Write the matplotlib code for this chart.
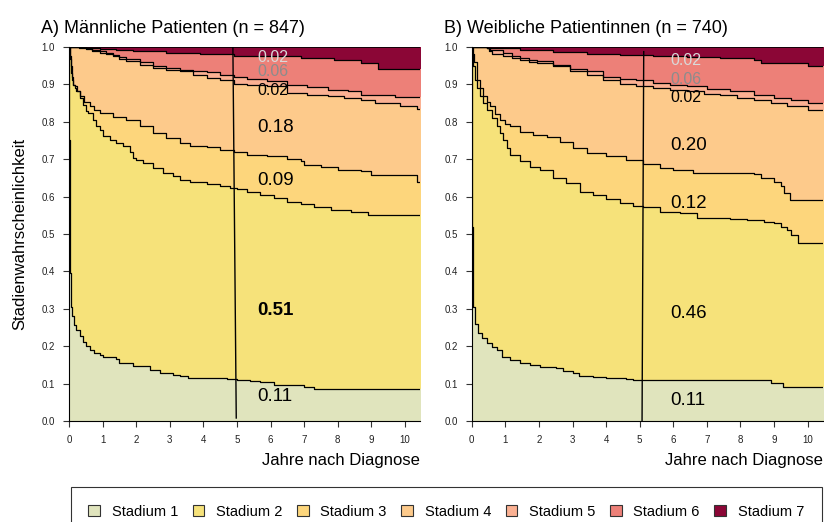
import matplotlib
matplotlib.use('Agg')
import matplotlib.pyplot as plt
from matplotlib.patches import Patch

plt.rcParams['font.family'] = ['Liberation Sans', 'DejaVu Sans']

stages = ['Stadium 1', 'Stadium 2', 'Stadium 3', 'Stadium 4', 'Stadium 5', 'Stadium 6', 'Stadium 7']
colors = ['#e0e4bd', '#f6e27a', '#fdd67c', '#fdca8b', '#fbb193', '#ed8078', '#8b0636']

# A) Maenner - kumulierte Grenzen (Stadium 1 oben, 1+2 oben, ...)
m_t1 = [0, 0.01, 0.02, 0.04, 0.07, 0.1, 0.14, 0.22, 0.32, 0.42, 0.52, 0.62, 0.75, 0.91, 1.0, 1.41, 1.5, 1.8, 1.9, 2.1, 2.4, 2.7, 3.1, 3.3, 3.55, 4.2, 4.7, 5.0, 5.4, 5.7, 6.1, 6.5, 7.0, 7.3, 10.5]
m_b1 = [1.0, 0.75, 0.5, 0.396, 0.306, 0.28, 0.257, 0.244, 0.226, 0.2125, 0.2, 0.19, 0.182, 0.177, 0.17, 0.166, 0.156, 0.154, 0.147, 0.146, 0.137, 0.128, 0.123, 0.119, 0.116, 0.114, 0.1125, 0.11, 0.107, 0.103, 0.096, 0.0955, 0.092, 0.086, 0.086]
m_t2 = [0, 0.02, 0.05, 0.07, 0.1, 0.12, 0.17, 0.22, 0.32, 0.42, 0.52, 0.57, 0.71, 0.81, 0.91, 1.01, 1.21, 1.41, 1.61, 1.81, 1.91, 2.0, 2.2, 2.5, 2.8, 3.1, 3.3, 3.6, 4.1, 4.5, 4.8, 5.0, 5.3, 5.7, 6.1, 6.5, 6.9, 7.3, 7.8, 8.4, 8.9, 10.5]
m_b2 = [1.0, 0.975, 0.95, 0.93, 0.912, 0.899, 0.89, 0.881, 0.863, 0.846, 0.83, 0.823, 0.805, 0.79, 0.779, 0.763, 0.752, 0.743, 0.734, 0.718, 0.703, 0.698, 0.689, 0.676, 0.6625, 0.654, 0.645, 0.64, 0.634, 0.629, 0.624, 0.621, 0.613, 0.604, 0.595, 0.585, 0.58, 0.573, 0.564, 0.559, 0.552, 0.552]
m_t3 = [0, 0.02, 0.04, 0.07, 0.1, 0.12, 0.17, 0.24, 0.32, 0.45, 0.62, 0.75, 0.91, 1.31, 1.71, 2.1, 2.5, 2.9, 3.3, 3.6, 4.1, 4.5, 4.9, 5.3, 5.9, 6.5, 6.9, 7.0, 7.5, 8.0, 8.7, 9.0, 9.85, 10.35, 10.5]
m_b3 = [1.0, 0.985, 0.968, 0.948, 0.92, 0.899, 0.895, 0.882, 0.868, 0.853, 0.841, 0.831, 0.8235, 0.8125, 0.805, 0.7875, 0.77, 0.7565, 0.743, 0.734, 0.7325, 0.725, 0.718, 0.712, 0.7075, 0.70, 0.696, 0.685, 0.68, 0.672, 0.6675, 0.658, 0.6565, 0.64, 0.64]
m_t4 = [0, 0.3, 0.52, 0.7, 0.91, 1.1, 1.31, 1.5, 1.71, 2.1, 2.5, 2.9, 3.3, 3.7, 4.1, 4.5, 4.9, 5.3, 5.9, 6.5, 7.1, 7.7, 8.2, 8.7, 9.1, 9.85, 10.35, 10.5]
m_b4 = [1.0, 0.998, 0.995, 0.99, 0.984, 0.98, 0.975, 0.968, 0.962, 0.953, 0.944, 0.939, 0.935, 0.926, 0.917, 0.911, 0.902, 0.899, 0.8945, 0.877, 0.872, 0.868, 0.8635, 0.859, 0.85, 0.841, 0.834, 0.834]
m_t5 = [0, 0.3, 0.52, 0.7, 0.91, 1.1, 1.31, 1.5, 1.71, 2.1, 2.5, 2.9, 3.3, 3.7, 4.1, 4.5, 4.9, 5.3, 5.9, 6.5, 7.1, 7.7, 8.3, 8.7, 9.7, 10.5]
m_b5 = [1.0, 0.999, 0.997, 0.993, 0.988, 0.984, 0.979, 0.973, 0.968, 0.959, 0.95, 0.944, 0.939, 0.935, 0.932, 0.926, 0.919, 0.914, 0.908, 0.899, 0.893, 0.886, 0.881, 0.872, 0.865, 0.865]
m_t6 = [0, 0.5, 0.91, 1.4, 1.9, 2.9, 3.9, 4.9, 5.9, 6.9, 7.9, 8.7, 9.2, 10.5]
m_b6 = [1.0, 0.998, 0.995, 0.991, 0.988, 0.984, 0.981, 0.977, 0.975, 0.97, 0.966, 0.957, 0.941, 0.941]

# B) Frauen
f_t1 = [0, 0.01, 0.02, 0.03, 0.05, 0.1, 0.2, 0.3, 0.45, 0.6, 0.74, 0.9, 1.14, 1.44, 1.73, 2.03, 2.52, 2.72, 3.02, 3.2, 3.6, 4.0, 4.6, 4.8, 8.9, 9.26, 10.5]
f_b1 = [1.0, 0.7, 0.52, 0.42, 0.306, 0.26, 0.235, 0.223, 0.208, 0.198, 0.19, 0.172, 0.162, 0.154, 0.15, 0.1455, 0.143, 0.134, 0.129, 0.121, 0.118, 0.114, 0.112, 0.109, 0.101, 0.092, 0.092]
f_t2 = [0, 0.02, 0.05, 0.1, 0.17, 0.25, 0.35, 0.45, 0.6, 0.74, 0.84, 0.94, 1.04, 1.14, 1.44, 1.73, 2.03, 2.43, 2.82, 3.22, 3.61, 4.0, 4.4, 4.8, 5.1, 5.6, 6.2, 6.7, 7.7, 8.2, 8.7, 9.0, 9.2, 9.4, 9.5, 9.7, 10.5]
f_b2 = [1.0, 0.98, 0.95, 0.9125, 0.89, 0.868, 0.85, 0.832, 0.81, 0.7875, 0.77, 0.752, 0.73, 0.712, 0.694, 0.68, 0.6715, 0.649, 0.636, 0.613, 0.604, 0.594, 0.582, 0.576, 0.571, 0.56, 0.555, 0.542, 0.54, 0.5375, 0.533, 0.529, 0.52, 0.511, 0.498, 0.475, 0.475]
f_t3 = [0, 0.03, 0.07, 0.15, 0.25, 0.35, 0.45, 0.54, 0.7, 0.84, 1.0, 1.14, 1.44, 1.83, 2.23, 2.62, 3.02, 3.42, 4.0, 4.6, 5.1, 5.6, 6.0, 6.6, 8.4, 8.6, 9.0, 9.2, 9.3, 9.46, 10.5]
f_b3 = [1.0, 0.98, 0.96, 0.9125, 0.89, 0.868, 0.853, 0.841, 0.822, 0.805, 0.795, 0.7875, 0.774, 0.765, 0.759, 0.747, 0.729, 0.716, 0.709, 0.698, 0.6875, 0.676, 0.67, 0.6625, 0.661, 0.649, 0.64, 0.627, 0.609, 0.5915, 0.5915]
f_t4 = [0, 0.45, 0.52, 0.6, 0.94, 1.2, 1.44, 1.7, 1.93, 2.43, 2.92, 3.42, 3.9, 4.4, 4.9, 5.4, 5.9, 6.4, 6.9, 7.4, 7.9, 8.4, 8.9, 9.4, 10.0, 10.5]
f_b4 = [1.0, 0.997, 0.99, 0.982, 0.975, 0.97, 0.966, 0.961, 0.957, 0.948, 0.935, 0.926, 0.9125, 0.902, 0.8945, 0.89, 0.886, 0.881, 0.875, 0.872, 0.8635, 0.859, 0.85, 0.841, 0.832, 0.828]
f_t5 = [0, 0.45, 0.54, 0.94, 1.2, 1.44, 1.7, 1.93, 2.43, 2.92, 3.42, 3.9, 4.4, 4.9, 5.4, 5.9, 6.4, 7.0, 7.7, 8.4, 9.0, 9.5, 10.0, 10.5]
f_b5 = [1.0, 0.997, 0.993, 0.984, 0.977, 0.971, 0.966, 0.962, 0.953, 0.941, 0.935, 0.921, 0.914, 0.911, 0.905, 0.899, 0.8945, 0.8875, 0.881, 0.872, 0.8635, 0.859, 0.85, 0.848]
f_t6 = [0, 0.45, 1.44, 2.43, 3.42, 4.4, 5.4, 6.4, 7.4, 8.4, 8.6, 10.0, 10.5]
f_b6 = [1.0, 0.997, 0.991, 0.986, 0.982, 0.979, 0.975, 0.973, 0.97, 0.966, 0.957, 0.95, 0.95]

m_labels = ['0.11', '0.51', '0.09', '0.18', '0.02', '0.06', '0.02']
m_label_y = [0.065, 0.295, 0.643, 0.785, 0.883, 0.935, 0.971]
f_labels = ['0.11', '0.46', '0.12', '0.20', '0.02', '0.06', '0.02']
f_label_y = [0.0535, 0.288, 0.5825, 0.736, 0.865, 0.914, 0.964]

fig = plt.figure(figsize=(8.24, 5.22), dpi=100)
ax1 = fig.add_axes([0.0837, 0.1935, 0.426, 0.7165])
ax2 = fig.add_axes([0.5725, 0.1935, 0.426, 0.7165])


def draw_panel(ax, times, bounds, labels, label_y, label_x, bold_idx, vline):
    # von oben nach unten uebermalen
    ax.fill_between([0, 10.5], 0, 1, color=colors[6], lw=0)
    for k in range(5, -1, -1):
        ax.fill_between(times[k], 0, bounds[k], step='post', color=colors[k], lw=0)
    for k in range(6):
        ax.plot(times[k], bounds[k], drawstyle='steps-post', color='black', lw=0.9)
    ax.axhline(1.0, color='black', lw=1.2)
    ax.plot(vline[0], vline[1], color='black', lw=1)
    for i in range(7):
        if i >= 4:
            fs = 11.5
        else:
            fs = 13.5
        col = 'black'
        if i == 6:
            col = '#d9d9d9'
        elif i == 5:
            col = '#8c8c8c'
        ax.text(label_x, label_y[i], labels[i], fontsize=fs, color=col, va='center', ha='left',
                fontweight='bold' if i == bold_idx else 'normal')

    ax.set_xlim(0, 10.45)
    ax.set_ylim(0, 1.0)
    ax.set_xticks(range(0, 11))
    ax.set_yticks([i / 10 for i in range(11)])
    ax.set_yticklabels(['%.1f' % (i / 10) for i in range(11)])
    ax.tick_params(labelsize=7, length=4, width=0.8, color='#333333', labelcolor='#222222', pad=6)
    ax.spines['right'].set_visible(False)
    ax.spines['top'].set_visible(False)
    ax.set_xlabel('Jahre nach Diagnose', fontsize=12, loc='right', labelpad=6)


draw_panel(ax1, [m_t1, m_t2, m_t3, m_t4, m_t5, m_t6], [m_b1, m_b2, m_b3, m_b4, m_b5, m_b6],
           m_labels, m_label_y, 5.62, 1, ([4.88, 4.98], [1.0, 0.008]))
draw_panel(ax2, [f_t1, f_t2, f_t3, f_t4, f_t5, f_t6], [f_b1, f_b2, f_b3, f_b4, f_b5, f_b6],
           f_labels, f_label_y, 5.92, -1, ([5.12, 5.07], [0.9875, -0.005]))

ax1.set_ylabel('Stadienwahrscheinlichkeit', fontsize=12, labelpad=10)
ax1.set_title('A) Männliche Patienten (n = 847)', fontsize=13, loc='left', x=-0.08, pad=10)
ax2.set_title('B) Weibliche Patientinnen (n = 740)', fontsize=13, loc='left', x=-0.08, pad=10)

handles = [Patch(facecolor=colors[i], edgecolor='#333333', lw=0.8) for i in range(7)]
leg = fig.legend(handles, stages, loc='upper left', ncol=7, mode='expand',
                 bbox_to_anchor=(0.086, -0.05, 0.911, 0.117), borderaxespad=0, fontsize=10.5,
                 frameon=True, fancybox=False, handlelength=0.8, handleheight=0.8,
                 handletextpad=0.8, borderpad=1.2, columnspacing=1.0)
leg.get_frame().set_edgecolor('black')
leg.get_frame().set_linewidth(0.8)

fig.savefig('out.png', dpi=100)
